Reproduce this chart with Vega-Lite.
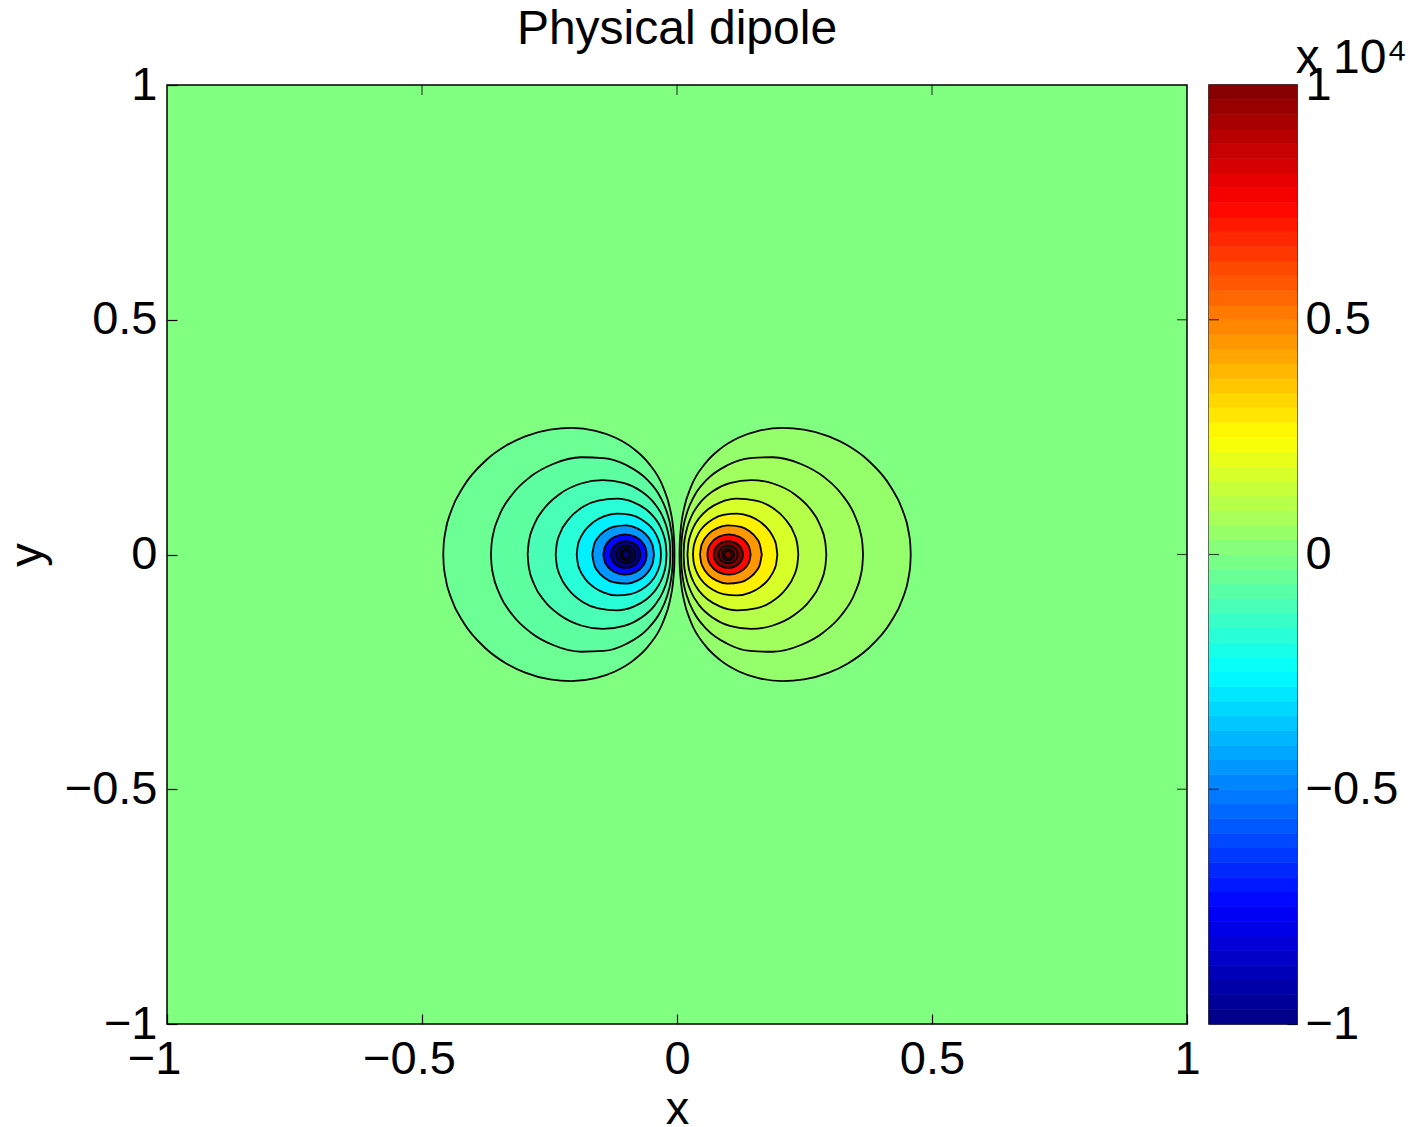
{
  "$schema": "https://vega.github.io/schema/vega-lite/v6.json",
  "background": "white",
  "padding": {"left": 2, "top": 5, "right": 5, "bottom": 5},
  "bounds": "flush",
  "spacing": 22,
  "config": {
    "font": "Liberation Sans",
    "axis": {"labelFont": "Liberation Sans", "labelFontSize": 47, "labelColor": "#000", "titleFont": "Liberation Sans", "titleFontSize": 47, "titleFontWeight": "normal", "titleColor": "#000", "tickColor": "#000", "tickWidth": 1.2, "grid": false, "domain": false},
    "title": {"font": "Liberation Sans", "fontSize": 48, "fontWeight": "normal", "color": "#000"}
  },
  "datasets": {
    "contours": [
      {"id":"n01","v":-400,"x":-0.4583,"yt":0,"yb":0},{"id":"n01","v":-400,"x":-0.4575,"yt":0.0213,"yb":-0.0213},{"id":"n01","v":-400,"x":-0.4545,"yt":0.0463,"yb":-0.0463},{"id":"n01","v":-400,"x":-0.4423,"yt":0.0943,"yb":-0.0943},{"id":"n01","v":-400,"x":-0.4186,"yt":0.1449,"yb":-0.1449},{"id":"n01","v":-400,"x":-0.3745,"yt":0.2007,"yb":-0.2007},{"id":"n01","v":-400,"x":-0.3342,"yt":0.2325,"yb":-0.2325},{"id":"n01","v":-400,"x":-0.2976,"yt":0.2517,"yb":-0.2517},{"id":"n01","v":-400,"x":-0.2489,"yt":0.2662,"yb":-0.2662},{"id":"n01","v":-400,"x":-0.2068,"yt":0.2696,"yb":-0.2696},{"id":"n01","v":-400,"x":-0.1597,"yt":0.2633,"yb":-0.2633},{"id":"n01","v":-400,"x":-0.1215,"yt":0.2491,"yb":-0.2491},{"id":"n01","v":-400,"x":-0.0842,"yt":0.2244,"yb":-0.2244},{"id":"n01","v":-400,"x":-0.0563,"yt":0.1952,"yb":-0.1952},{"id":"n01","v":-400,"x":-0.0267,"yt":0.1422,"yb":-0.1422},{"id":"n01","v":-400,"x":-0.0136,"yt":0.0971,"yb":-0.0971},{"id":"n01","v":-400,"x":-0.0079,"yt":0.0602,"yb":-0.0602},{"id":"n01","v":-400,"x":-0.0059,"yt":0.0337,"yb":-0.0337},{"id":"n01","v":-400,"x":-0.0053,"yt":0.0211,"yb":-0.0211},{"id":"n01","v":-400,"x":-0.0050,"yt":0,"yb":0},
      {"id":"n02","v":-650,"x":-0.3648,"yt":0,"yb":0},{"id":"n02","v":-650,"x":-0.3636,"yt":0.0224,"yb":-0.0224},{"id":"n02","v":-650,"x":-0.3602,"yt":0.0448,"yb":-0.0448},{"id":"n02","v":-650,"x":-0.3488,"yt":0.0821,"yb":-0.0821},{"id":"n02","v":-650,"x":-0.3217,"yt":0.1299,"yb":-0.1299},{"id":"n02","v":-650,"x":-0.2870,"yt":0.1660,"yb":-0.1660},{"id":"n02","v":-650,"x":-0.2430,"yt":0.1928,"yb":-0.1928},{"id":"n02","v":-650,"x":-0.1879,"yt":0.2071,"yb":-0.2071},{"id":"n02","v":-650,"x":-0.1438,"yt":0.2054,"yb":-0.2054},{"id":"n02","v":-650,"x":-0.0986,"yt":0.1900,"yb":-0.1900},{"id":"n02","v":-650,"x":-0.0590,"yt":0.1598,"yb":-0.1598},{"id":"n02","v":-650,"x":-0.0331,"yt":0.1230,"yb":-0.1230},{"id":"n02","v":-650,"x":-0.0196,"yt":0.0890,"yb":-0.0890},{"id":"n02","v":-650,"x":-0.0125,"yt":0.0581,"yb":-0.0581},{"id":"n02","v":-650,"x":-0.0096,"yt":0.0352,"yb":-0.0352},{"id":"n02","v":-650,"x":-0.0087,"yt":0.0223,"yb":-0.0223},{"id":"n02","v":-650,"x":-0.0081,"yt":0,"yb":0},
      {"id":"n03","v":-1056,"x":-0.2928,"yt":0,"yb":0},{"id":"n03","v":-1056,"x":-0.2907,"yt":0.0264,"yb":-0.0264},{"id":"n03","v":-1056,"x":-0.2802,"yt":0.0634,"yb":-0.0634},{"id":"n03","v":-1056,"x":-0.2602,"yt":0.0984,"yb":-0.0984},{"id":"n03","v":-1056,"x":-0.2298,"yt":0.1290,"yb":-0.1290},{"id":"n03","v":-1056,"x":-0.1881,"yt":0.1512,"yb":-0.1512},{"id":"n03","v":-1056,"x":-0.1457,"yt":0.1585,"yb":-0.1585},{"id":"n03","v":-1056,"x":-0.1035,"yt":0.1520,"yb":-0.1520},{"id":"n03","v":-1056,"x":-0.0703,"yt":0.1348,"yb":-0.1348},{"id":"n03","v":-1056,"x":-0.0438,"yt":0.1083,"yb":-0.1083},{"id":"n03","v":-1056,"x":-0.0279,"yt":0.0804,"yb":-0.0804},{"id":"n03","v":-1056,"x":-0.0197,"yt":0.0562,"yb":-0.0562},{"id":"n03","v":-1056,"x":-0.0158,"yt":0.0370,"yb":-0.0370},{"id":"n03","v":-1056,"x":-0.0140,"yt":0.0231,"yb":-0.0231},{"id":"n03","v":-1056,"x":-0.0130,"yt":0,"yb":0},
      {"id":"n04","v":-1716,"x":-0.2379,"yt":0,"yb":0},{"id":"n04","v":-1716,"x":-0.2358,"yt":0.0228,"yb":-0.0228},{"id":"n04","v":-1716,"x":-0.2293,"yt":0.0452,"yb":-0.0452},{"id":"n04","v":-1716,"x":-0.2119,"yt":0.0756,"yb":-0.0756},{"id":"n04","v":-1716,"x":-0.1842,"yt":0.1016,"yb":-0.1016},{"id":"n04","v":-1716,"x":-0.1544,"yt":0.1148,"yb":-0.1148},{"id":"n04","v":-1716,"x":-0.1170,"yt":0.1188,"yb":-0.1188},{"id":"n04","v":-1716,"x":-0.0849,"yt":0.1110,"yb":-0.1110},{"id":"n04","v":-1716,"x":-0.0611,"yt":0.0965,"yb":-0.0965},{"id":"n04","v":-1716,"x":-0.0436,"yt":0.0777,"yb":-0.0777},{"id":"n04","v":-1716,"x":-0.0320,"yt":0.0575,"yb":-0.0575},{"id":"n04","v":-1716,"x":-0.0255,"yt":0.0388,"yb":-0.0388},{"id":"n04","v":-1716,"x":-0.0221,"yt":0.0223,"yb":-0.0223},{"id":"n04","v":-1716,"x":-0.0205,"yt":0,"yb":0},
      {"id":"n05","v":-2789,"x":-0.1967,"yt":0,"yb":0},{"id":"n05","v":-2789,"x":-0.1943,"yt":0.0205,"yb":-0.0205},{"id":"n05","v":-2789,"x":-0.1904,"yt":0.0330,"yb":-0.0330},{"id":"n05","v":-2789,"x":-0.1815,"yt":0.0498,"yb":-0.0498},{"id":"n05","v":-2789,"x":-0.1640,"yt":0.0689,"yb":-0.0689},{"id":"n05","v":-2789,"x":-0.1435,"yt":0.0811,"yb":-0.0811},{"id":"n05","v":-2789,"x":-0.1178,"yt":0.0872,"yb":-0.0872},{"id":"n05","v":-2789,"x":-0.0908,"yt":0.0845,"yb":-0.0845},{"id":"n05","v":-2789,"x":-0.0702,"yt":0.0753,"yb":-0.0753},{"id":"n05","v":-2789,"x":-0.0543,"yt":0.0620,"yb":-0.0620},{"id":"n05","v":-2789,"x":-0.0419,"yt":0.0443,"yb":-0.0443},{"id":"n05","v":-2789,"x":-0.0345,"yt":0.0247,"yb":-0.0247},{"id":"n05","v":-2789,"x":-0.0323,"yt":0.0134,"yb":-0.0134},{"id":"n05","v":-2789,"x":-0.0314,"yt":0,"yb":0},
      {"id":"n06","v":-4532,"x":-0.1663,"yt":0,"yb":0},{"id":"n06","v":-4532,"x":-0.1623,"yt":0.0220,"yb":-0.0220},{"id":"n06","v":-4532,"x":-0.1563,"yt":0.0341,"yb":-0.0341},{"id":"n06","v":-4532,"x":-0.1415,"yt":0.0500,"yb":-0.0500},{"id":"n06","v":-4532,"x":-0.1253,"yt":0.0588,"yb":-0.0588},{"id":"n06","v":-4532,"x":-0.0989,"yt":0.0620,"yb":-0.0620},{"id":"n06","v":-4532,"x":-0.0788,"yt":0.0561,"yb":-0.0561},{"id":"n06","v":-4532,"x":-0.0631,"yt":0.0448,"yb":-0.0448},{"id":"n06","v":-4532,"x":-0.0508,"yt":0.0268,"yb":-0.0268},{"id":"n06","v":-4532,"x":-0.0472,"yt":0.0164,"yb":-0.0164},{"id":"n06","v":-4532,"x":-0.0451,"yt":0,"yb":0},
      {"id":"n07","v":-7364,"x":-0.1444,"yt":0,"yb":0},{"id":"n07","v":-7364,"x":-0.1418,"yt":0.0149,"yb":-0.0149},{"id":"n07","v":-7364,"x":-0.1393,"yt":0.0204,"yb":-0.0204},{"id":"n07","v":-7364,"x":-0.1359,"yt":0.0258,"yb":-0.0258},{"id":"n07","v":-7364,"x":-0.1231,"yt":0.0372,"yb":-0.0372},{"id":"n07","v":-7364,"x":-0.1018,"yt":0.0430,"yb":-0.0430},{"id":"n07","v":-7364,"x":-0.0813,"yt":0.0376,"yb":-0.0376},{"id":"n07","v":-7364,"x":-0.0657,"yt":0.0225,"yb":-0.0225},{"id":"n07","v":-7364,"x":-0.0630,"yt":0.0173,"yb":-0.0173},{"id":"n07","v":-7364,"x":-0.0605,"yt":0.0093,"yb":-0.0093},{"id":"n07","v":-7364,"x":-0.0595,"yt":0,"yb":0},
      {"id":"n08","v":-11968,"x":-0.1292,"yt":0,"yb":0},{"id":"n08","v":-11968,"x":-0.1286,"yt":0.0059,"yb":-0.0059},{"id":"n08","v":-11968,"x":-0.1265,"yt":0.0121,"yb":-0.0121},{"id":"n08","v":-11968,"x":-0.1225,"yt":0.0184,"yb":-0.0184},{"id":"n08","v":-11968,"x":-0.1149,"yt":0.0248,"yb":-0.0248},{"id":"n08","v":-11968,"x":-0.1006,"yt":0.0286,"yb":-0.0286},{"id":"n08","v":-11968,"x":-0.0863,"yt":0.0248,"yb":-0.0248},{"id":"n08","v":-11968,"x":-0.0787,"yt":0.0184,"yb":-0.0184},{"id":"n08","v":-11968,"x":-0.0747,"yt":0.0121,"yb":-0.0121},{"id":"n08","v":-11968,"x":-0.0726,"yt":0.0059,"yb":-0.0059},{"id":"n08","v":-11968,"x":-0.0720,"yt":0,"yb":0},
      {"id":"n09","v":-19440,"x":-0.1188,"yt":0,"yb":0},{"id":"n09","v":-19440,"x":-0.1184,"yt":0.0039,"yb":-0.0039},{"id":"n09","v":-19440,"x":-0.1171,"yt":0.0079,"yb":-0.0079},{"id":"n09","v":-19440,"x":-0.1145,"yt":0.0120,"yb":-0.0120},{"id":"n09","v":-19440,"x":-0.1095,"yt":0.0161,"yb":-0.0161},{"id":"n09","v":-19440,"x":-0.1002,"yt":0.0186,"yb":-0.0186},{"id":"n09","v":-19440,"x":-0.0909,"yt":0.0161,"yb":-0.0161},{"id":"n09","v":-19440,"x":-0.0860,"yt":0.0120,"yb":-0.0120},{"id":"n09","v":-19440,"x":-0.0833,"yt":0.0079,"yb":-0.0079},{"id":"n09","v":-19440,"x":-0.0820,"yt":0.0039,"yb":-0.0039},{"id":"n09","v":-19440,"x":-0.0816,"yt":0,"yb":0},
      {"id":"n10","v":-31600,"x":-0.1119,"yt":0,"yb":0},{"id":"n10","v":-31600,"x":-0.1116,"yt":0.0025,"yb":-0.0025},{"id":"n10","v":-31600,"x":-0.1108,"yt":0.0050,"yb":-0.0050},{"id":"n10","v":-31600,"x":-0.1091,"yt":0.0077,"yb":-0.0077},{"id":"n10","v":-31600,"x":-0.1060,"yt":0.0103,"yb":-0.0103},{"id":"n10","v":-31600,"x":-0.1000,"yt":0.0119,"yb":-0.0119},{"id":"n10","v":-31600,"x":-0.0941,"yt":0.0103,"yb":-0.0103},{"id":"n10","v":-31600,"x":-0.0909,"yt":0.0077,"yb":-0.0077},{"id":"n10","v":-31600,"x":-0.0892,"yt":0.0050,"yb":-0.0050},{"id":"n10","v":-31600,"x":-0.0884,"yt":0.0025,"yb":-0.0025},{"id":"n10","v":-31600,"x":-0.0881,"yt":0,"yb":0},
      {"id":"n11","v":-51360,"x":-0.1075,"yt":0,"yb":0},{"id":"n11","v":-51360,"x":-0.1065,"yt":0.0038,"yb":-0.0038},{"id":"n11","v":-51360,"x":-0.1038,"yt":0.0065,"yb":-0.0065},{"id":"n11","v":-51360,"x":-0.1000,"yt":0.0075,"yb":-0.0075},{"id":"n11","v":-51360,"x":-0.0963,"yt":0.0065,"yb":-0.0065},{"id":"n11","v":-51360,"x":-0.0935,"yt":0.0038,"yb":-0.0038},{"id":"n11","v":-51360,"x":-0.0925,"yt":0,"yb":0},
      {"id":"p01","v":400,"x":0.4583,"yt":0,"yb":0},{"id":"p01","v":400,"x":0.4575,"yt":0.0213,"yb":-0.0213},{"id":"p01","v":400,"x":0.4545,"yt":0.0463,"yb":-0.0463},{"id":"p01","v":400,"x":0.4423,"yt":0.0943,"yb":-0.0943},{"id":"p01","v":400,"x":0.4186,"yt":0.1449,"yb":-0.1449},{"id":"p01","v":400,"x":0.3745,"yt":0.2007,"yb":-0.2007},{"id":"p01","v":400,"x":0.3342,"yt":0.2325,"yb":-0.2325},{"id":"p01","v":400,"x":0.2976,"yt":0.2517,"yb":-0.2517},{"id":"p01","v":400,"x":0.2489,"yt":0.2662,"yb":-0.2662},{"id":"p01","v":400,"x":0.2068,"yt":0.2696,"yb":-0.2696},{"id":"p01","v":400,"x":0.1597,"yt":0.2633,"yb":-0.2633},{"id":"p01","v":400,"x":0.1215,"yt":0.2491,"yb":-0.2491},{"id":"p01","v":400,"x":0.0842,"yt":0.2244,"yb":-0.2244},{"id":"p01","v":400,"x":0.0563,"yt":0.1952,"yb":-0.1952},{"id":"p01","v":400,"x":0.0267,"yt":0.1422,"yb":-0.1422},{"id":"p01","v":400,"x":0.0136,"yt":0.0971,"yb":-0.0971},{"id":"p01","v":400,"x":0.0079,"yt":0.0602,"yb":-0.0602},{"id":"p01","v":400,"x":0.0059,"yt":0.0337,"yb":-0.0337},{"id":"p01","v":400,"x":0.0053,"yt":0.0211,"yb":-0.0211},{"id":"p01","v":400,"x":0.0050,"yt":0,"yb":0},
      {"id":"p02","v":650,"x":0.3648,"yt":0,"yb":0},{"id":"p02","v":650,"x":0.3636,"yt":0.0224,"yb":-0.0224},{"id":"p02","v":650,"x":0.3602,"yt":0.0448,"yb":-0.0448},{"id":"p02","v":650,"x":0.3488,"yt":0.0821,"yb":-0.0821},{"id":"p02","v":650,"x":0.3217,"yt":0.1299,"yb":-0.1299},{"id":"p02","v":650,"x":0.2870,"yt":0.1660,"yb":-0.1660},{"id":"p02","v":650,"x":0.2430,"yt":0.1928,"yb":-0.1928},{"id":"p02","v":650,"x":0.1879,"yt":0.2071,"yb":-0.2071},{"id":"p02","v":650,"x":0.1438,"yt":0.2054,"yb":-0.2054},{"id":"p02","v":650,"x":0.0986,"yt":0.1900,"yb":-0.1900},{"id":"p02","v":650,"x":0.0590,"yt":0.1598,"yb":-0.1598},{"id":"p02","v":650,"x":0.0331,"yt":0.1230,"yb":-0.1230},{"id":"p02","v":650,"x":0.0196,"yt":0.0890,"yb":-0.0890},{"id":"p02","v":650,"x":0.0125,"yt":0.0581,"yb":-0.0581},{"id":"p02","v":650,"x":0.0096,"yt":0.0352,"yb":-0.0352},{"id":"p02","v":650,"x":0.0087,"yt":0.0223,"yb":-0.0223},{"id":"p02","v":650,"x":0.0081,"yt":0,"yb":0},
      {"id":"p03","v":1056,"x":0.2928,"yt":0,"yb":0},{"id":"p03","v":1056,"x":0.2907,"yt":0.0264,"yb":-0.0264},{"id":"p03","v":1056,"x":0.2802,"yt":0.0634,"yb":-0.0634},{"id":"p03","v":1056,"x":0.2602,"yt":0.0984,"yb":-0.0984},{"id":"p03","v":1056,"x":0.2298,"yt":0.1290,"yb":-0.1290},{"id":"p03","v":1056,"x":0.1881,"yt":0.1512,"yb":-0.1512},{"id":"p03","v":1056,"x":0.1457,"yt":0.1585,"yb":-0.1585},{"id":"p03","v":1056,"x":0.1035,"yt":0.1520,"yb":-0.1520},{"id":"p03","v":1056,"x":0.0703,"yt":0.1348,"yb":-0.1348},{"id":"p03","v":1056,"x":0.0438,"yt":0.1083,"yb":-0.1083},{"id":"p03","v":1056,"x":0.0279,"yt":0.0804,"yb":-0.0804},{"id":"p03","v":1056,"x":0.0197,"yt":0.0562,"yb":-0.0562},{"id":"p03","v":1056,"x":0.0158,"yt":0.0370,"yb":-0.0370},{"id":"p03","v":1056,"x":0.0140,"yt":0.0231,"yb":-0.0231},{"id":"p03","v":1056,"x":0.0130,"yt":0,"yb":0},
      {"id":"p04","v":1716,"x":0.2379,"yt":0,"yb":0},{"id":"p04","v":1716,"x":0.2358,"yt":0.0228,"yb":-0.0228},{"id":"p04","v":1716,"x":0.2293,"yt":0.0452,"yb":-0.0452},{"id":"p04","v":1716,"x":0.2119,"yt":0.0756,"yb":-0.0756},{"id":"p04","v":1716,"x":0.1842,"yt":0.1016,"yb":-0.1016},{"id":"p04","v":1716,"x":0.1544,"yt":0.1148,"yb":-0.1148},{"id":"p04","v":1716,"x":0.1170,"yt":0.1188,"yb":-0.1188},{"id":"p04","v":1716,"x":0.0849,"yt":0.1110,"yb":-0.1110},{"id":"p04","v":1716,"x":0.0611,"yt":0.0965,"yb":-0.0965},{"id":"p04","v":1716,"x":0.0436,"yt":0.0777,"yb":-0.0777},{"id":"p04","v":1716,"x":0.0320,"yt":0.0575,"yb":-0.0575},{"id":"p04","v":1716,"x":0.0255,"yt":0.0388,"yb":-0.0388},{"id":"p04","v":1716,"x":0.0221,"yt":0.0223,"yb":-0.0223},{"id":"p04","v":1716,"x":0.0205,"yt":0,"yb":0},
      {"id":"p05","v":2789,"x":0.1967,"yt":0,"yb":0},{"id":"p05","v":2789,"x":0.1943,"yt":0.0205,"yb":-0.0205},{"id":"p05","v":2789,"x":0.1904,"yt":0.0330,"yb":-0.0330},{"id":"p05","v":2789,"x":0.1815,"yt":0.0498,"yb":-0.0498},{"id":"p05","v":2789,"x":0.1640,"yt":0.0689,"yb":-0.0689},{"id":"p05","v":2789,"x":0.1435,"yt":0.0811,"yb":-0.0811},{"id":"p05","v":2789,"x":0.1178,"yt":0.0872,"yb":-0.0872},{"id":"p05","v":2789,"x":0.0908,"yt":0.0845,"yb":-0.0845},{"id":"p05","v":2789,"x":0.0702,"yt":0.0753,"yb":-0.0753},{"id":"p05","v":2789,"x":0.0543,"yt":0.0620,"yb":-0.0620},{"id":"p05","v":2789,"x":0.0419,"yt":0.0443,"yb":-0.0443},{"id":"p05","v":2789,"x":0.0345,"yt":0.0247,"yb":-0.0247},{"id":"p05","v":2789,"x":0.0323,"yt":0.0134,"yb":-0.0134},{"id":"p05","v":2789,"x":0.0314,"yt":0,"yb":0},
      {"id":"p06","v":4532,"x":0.1663,"yt":0,"yb":0},{"id":"p06","v":4532,"x":0.1623,"yt":0.0220,"yb":-0.0220},{"id":"p06","v":4532,"x":0.1563,"yt":0.0341,"yb":-0.0341},{"id":"p06","v":4532,"x":0.1415,"yt":0.0500,"yb":-0.0500},{"id":"p06","v":4532,"x":0.1253,"yt":0.0588,"yb":-0.0588},{"id":"p06","v":4532,"x":0.0989,"yt":0.0620,"yb":-0.0620},{"id":"p06","v":4532,"x":0.0788,"yt":0.0561,"yb":-0.0561},{"id":"p06","v":4532,"x":0.0631,"yt":0.0448,"yb":-0.0448},{"id":"p06","v":4532,"x":0.0508,"yt":0.0268,"yb":-0.0268},{"id":"p06","v":4532,"x":0.0472,"yt":0.0164,"yb":-0.0164},{"id":"p06","v":4532,"x":0.0451,"yt":0,"yb":0},
      {"id":"p07","v":7364,"x":0.1444,"yt":0,"yb":0},{"id":"p07","v":7364,"x":0.1418,"yt":0.0149,"yb":-0.0149},{"id":"p07","v":7364,"x":0.1393,"yt":0.0204,"yb":-0.0204},{"id":"p07","v":7364,"x":0.1359,"yt":0.0258,"yb":-0.0258},{"id":"p07","v":7364,"x":0.1231,"yt":0.0372,"yb":-0.0372},{"id":"p07","v":7364,"x":0.1018,"yt":0.0430,"yb":-0.0430},{"id":"p07","v":7364,"x":0.0813,"yt":0.0376,"yb":-0.0376},{"id":"p07","v":7364,"x":0.0657,"yt":0.0225,"yb":-0.0225},{"id":"p07","v":7364,"x":0.0630,"yt":0.0173,"yb":-0.0173},{"id":"p07","v":7364,"x":0.0605,"yt":0.0093,"yb":-0.0093},{"id":"p07","v":7364,"x":0.0595,"yt":0,"yb":0},
      {"id":"p08","v":11968,"x":0.1292,"yt":0,"yb":0},{"id":"p08","v":11968,"x":0.1286,"yt":0.0059,"yb":-0.0059},{"id":"p08","v":11968,"x":0.1265,"yt":0.0121,"yb":-0.0121},{"id":"p08","v":11968,"x":0.1225,"yt":0.0184,"yb":-0.0184},{"id":"p08","v":11968,"x":0.1149,"yt":0.0248,"yb":-0.0248},{"id":"p08","v":11968,"x":0.1006,"yt":0.0286,"yb":-0.0286},{"id":"p08","v":11968,"x":0.0863,"yt":0.0248,"yb":-0.0248},{"id":"p08","v":11968,"x":0.0787,"yt":0.0184,"yb":-0.0184},{"id":"p08","v":11968,"x":0.0747,"yt":0.0121,"yb":-0.0121},{"id":"p08","v":11968,"x":0.0726,"yt":0.0059,"yb":-0.0059},{"id":"p08","v":11968,"x":0.0720,"yt":0,"yb":0},
      {"id":"p09","v":19440,"x":0.1188,"yt":0,"yb":0},{"id":"p09","v":19440,"x":0.1184,"yt":0.0039,"yb":-0.0039},{"id":"p09","v":19440,"x":0.1171,"yt":0.0079,"yb":-0.0079},{"id":"p09","v":19440,"x":0.1145,"yt":0.0120,"yb":-0.0120},{"id":"p09","v":19440,"x":0.1095,"yt":0.0161,"yb":-0.0161},{"id":"p09","v":19440,"x":0.1002,"yt":0.0186,"yb":-0.0186},{"id":"p09","v":19440,"x":0.0909,"yt":0.0161,"yb":-0.0161},{"id":"p09","v":19440,"x":0.0860,"yt":0.0120,"yb":-0.0120},{"id":"p09","v":19440,"x":0.0833,"yt":0.0079,"yb":-0.0079},{"id":"p09","v":19440,"x":0.0820,"yt":0.0039,"yb":-0.0039},{"id":"p09","v":19440,"x":0.0816,"yt":0,"yb":0},
      {"id":"p10","v":31600,"x":0.1119,"yt":0,"yb":0},{"id":"p10","v":31600,"x":0.1116,"yt":0.0025,"yb":-0.0025},{"id":"p10","v":31600,"x":0.1108,"yt":0.0050,"yb":-0.0050},{"id":"p10","v":31600,"x":0.1091,"yt":0.0077,"yb":-0.0077},{"id":"p10","v":31600,"x":0.1060,"yt":0.0103,"yb":-0.0103},{"id":"p10","v":31600,"x":0.1000,"yt":0.0119,"yb":-0.0119},{"id":"p10","v":31600,"x":0.0941,"yt":0.0103,"yb":-0.0103},{"id":"p10","v":31600,"x":0.0909,"yt":0.0077,"yb":-0.0077},{"id":"p10","v":31600,"x":0.0892,"yt":0.0050,"yb":-0.0050},{"id":"p10","v":31600,"x":0.0884,"yt":0.0025,"yb":-0.0025},{"id":"p10","v":31600,"x":0.0881,"yt":0,"yb":0},
      {"id":"p11","v":51360,"x":0.1075,"yt":0,"yb":0},{"id":"p11","v":51360,"x":0.1065,"yt":0.0038,"yb":-0.0038},{"id":"p11","v":51360,"x":0.1038,"yt":0.0065,"yb":-0.0065},{"id":"p11","v":51360,"x":0.1000,"yt":0.0075,"yb":-0.0075},{"id":"p11","v":51360,"x":0.0963,"yt":0.0065,"yb":-0.0065},{"id":"p11","v":51360,"x":0.0935,"yt":0.0038,"yb":-0.0038},{"id":"p11","v":51360,"x":0.0925,"yt":0,"yb":0}
    ],
    "xticks": [{"x": -0.5}, {"x": 0}, {"x": 0.5}],
    "yticks": [{"yt": -0.5}, {"yt": 0}, {"yt": 0.5}],
    "cticks": [{"lo": -5000}, {"lo": 0}, {"lo": 5000}],
    "bands": [
      {"lo":-10000,"hi":-9687.5,"m":-9843.75},{"lo":-9687.5,"hi":-9375,"m":-9531.25},{"lo":-9375,"hi":-9062.5,"m":-9218.75},{"lo":-9062.5,"hi":-8750,"m":-8906.25},
      {"lo":-8750,"hi":-8437.5,"m":-8593.75},{"lo":-8437.5,"hi":-8125,"m":-8281.25},{"lo":-8125,"hi":-7812.5,"m":-7968.75},{"lo":-7812.5,"hi":-7500,"m":-7656.25},
      {"lo":-7500,"hi":-7187.5,"m":-7343.75},{"lo":-7187.5,"hi":-6875,"m":-7031.25},{"lo":-6875,"hi":-6562.5,"m":-6718.75},{"lo":-6562.5,"hi":-6250,"m":-6406.25},
      {"lo":-6250,"hi":-5937.5,"m":-6093.75},{"lo":-5937.5,"hi":-5625,"m":-5781.25},{"lo":-5625,"hi":-5312.5,"m":-5468.75},{"lo":-5312.5,"hi":-5000,"m":-5156.25},
      {"lo":-5000,"hi":-4687.5,"m":-4843.75},{"lo":-4687.5,"hi":-4375,"m":-4531.25},{"lo":-4375,"hi":-4062.5,"m":-4218.75},{"lo":-4062.5,"hi":-3750,"m":-3906.25},
      {"lo":-3750,"hi":-3437.5,"m":-3593.75},{"lo":-3437.5,"hi":-3125,"m":-3281.25},{"lo":-3125,"hi":-2812.5,"m":-2968.75},{"lo":-2812.5,"hi":-2500,"m":-2656.25},
      {"lo":-2500,"hi":-2187.5,"m":-2343.75},{"lo":-2187.5,"hi":-1875,"m":-2031.25},{"lo":-1875,"hi":-1562.5,"m":-1718.75},{"lo":-1562.5,"hi":-1250,"m":-1406.25},
      {"lo":-1250,"hi":-937.5,"m":-1093.75},{"lo":-937.5,"hi":-625,"m":-781.25},{"lo":-625,"hi":-312.5,"m":-468.75},{"lo":-312.5,"hi":0,"m":-156.25},
      {"lo":0,"hi":312.5,"m":156.25},{"lo":312.5,"hi":625,"m":468.75},{"lo":625,"hi":937.5,"m":781.25},{"lo":937.5,"hi":1250,"m":1093.75},
      {"lo":1250,"hi":1562.5,"m":1406.25},{"lo":1562.5,"hi":1875,"m":1718.75},{"lo":1875,"hi":2187.5,"m":2031.25},{"lo":2187.5,"hi":2500,"m":2343.75},
      {"lo":2500,"hi":2812.5,"m":2656.25},{"lo":2812.5,"hi":3125,"m":2968.75},{"lo":3125,"hi":3437.5,"m":3281.25},{"lo":3437.5,"hi":3750,"m":3593.75},
      {"lo":3750,"hi":4062.5,"m":3906.25},{"lo":4062.5,"hi":4375,"m":4218.75},{"lo":4375,"hi":4687.5,"m":4531.25},{"lo":4687.5,"hi":5000,"m":4843.75},
      {"lo":5000,"hi":5312.5,"m":5156.25},{"lo":5312.5,"hi":5625,"m":5468.75},{"lo":5625,"hi":5937.5,"m":5781.25},{"lo":5937.5,"hi":6250,"m":6093.75},
      {"lo":6250,"hi":6562.5,"m":6406.25},{"lo":6562.5,"hi":6875,"m":6718.75},{"lo":6875,"hi":7187.5,"m":7031.25},{"lo":7187.5,"hi":7500,"m":7343.75},
      {"lo":7500,"hi":7812.5,"m":7656.25},{"lo":7812.5,"hi":8125,"m":7968.75},{"lo":8125,"hi":8437.5,"m":8281.25},{"lo":8437.5,"hi":8750,"m":8593.75},
      {"lo":8750,"hi":9062.5,"m":8906.25},{"lo":9062.5,"hi":9375,"m":9218.75},{"lo":9375,"hi":9687.5,"m":9531.25},{"lo":9687.5,"hi":10000,"m":9843.75}
    ]
  },
  "hconcat": [
    {
      "width": 1020,
      "height": 939,
      "view": {"fill": "#80FF80", "stroke": "#000", "strokeWidth": 1.5},
      "title": {"text": "Physical dipole", "baseline": "alphabetic", "offset": -31},
      "layer": [
        {
          "data": {"name": "contours"},
          "mark": {"type": "area", "interpolate": "monotone", "stroke": "#000", "strokeWidth": 1.8},
          "encoding": {
            "x": {"field": "x", "type": "quantitative", "scale": {"domain": [-1, 1], "nice": false, "zero": false},
                  "axis": {"orient": "bottom", "values": [-1, -0.5, 0, 0.5, 1], "format": "~g", "tickSize": -10, "labelPadding": 22, "labelFlush": false, "title": "x", "titlePadding": 4,
                           "labelOffset": {"condition": {"test": "datum.value < 0", "value": -13}, "value": 0}}},
            "y": {"field": "yt", "type": "quantitative", "scale": {"domain": [-1, 1], "nice": false, "zero": false},
                  "axis": {"orient": "left", "values": [-1, -0.5, 0, 0.5, 1], "format": "~g", "tickSize": -10, "labelPadding": 20, "labelFlush": false, "title": "y", "titlePadding": 13}},
            "y2": {"field": "yb"},
            "color": {"field": "v", "type": "quantitative",
                      "scale": {"domain": [-10000, -7500, -2500, 2500, 7500, 10000], "range": ["#000080", "#0000ff", "#00ffff", "#ffff00", "#ff0000", "#800000"], "clamp": true, "interpolate": "rgb"},
                      "legend": null},
            "detail": {"field": "id"}
          }
        },
        {
          "data": {"name": "xticks"},
          "mark": {"type": "tick", "orient": "vertical", "size": 20, "thickness": 1.2, "color": "#000", "clip": true},
          "encoding": {
            "x": {"field": "x", "type": "quantitative"},
            "y": {"datum": 1, "type": "quantitative"}
          }
        },
        {
          "data": {"name": "yticks"},
          "mark": {"type": "tick", "orient": "horizontal", "size": 20, "thickness": 1.2, "color": "#000", "clip": true},
          "encoding": {
            "x": {"datum": 1, "type": "quantitative"},
            "y": {"field": "yt", "type": "quantitative"}
          }
        }
      ]
    },
    {
      "width": 88,
      "height": 939,
      "view": {"stroke": "#000", "strokeWidth": 1.5},
      "title": {"text": "x 10⁴", "anchor": "start", "dx": 87, "baseline": "alphabetic", "offset": -60},
      "layer": [
        {
          "data": {"name": "bands"},
          "mark": {"type": "rect", "strokeWidth": 0.6},
          "encoding": {
            "y": {"field": "lo", "type": "quantitative", "scale": {"domain": [-10000, 10000], "nice": false, "zero": false},
                  "axis": {"orient": "right", "values": [-10000, -5000, 0, 5000, 10000], "labelExpr": "format(datum.value / 10000, '~g')", "tickSize": -10, "labelPadding": 18, "labelFlush": false, "title": null}},
            "y2": {"field": "hi"},
            "color": {"field": "m", "type": "quantitative",
                      "scale": {"domain": [-10000, -7500, -2500, 2500, 7500, 10000], "range": ["#000080", "#0000ff", "#00ffff", "#ffff00", "#ff0000", "#800000"], "clamp": true, "interpolate": "rgb"},
                      "legend": null},
            "stroke": {"field": "m", "type": "quantitative",
                      "scale": {"domain": [-10000, -7500, -2500, 2500, 7500, 10000], "range": ["#000080", "#0000ff", "#00ffff", "#ffff00", "#ff0000", "#800000"], "clamp": true, "interpolate": "rgb"},
                      "legend": null}
          }
        },
        {
          "data": {"name": "cticks"},
          "mark": {"type": "tick", "orient": "horizontal", "size": 20, "thickness": 1.2, "color": "#000", "clip": true},
          "encoding": {
            "x": {"datum": 0, "type": "quantitative", "scale": {"domain": [0, 1], "nice": false, "zero": false}, "axis": null},
            "y": {"field": "lo", "type": "quantitative"}
          }
        }
      ]
    }
  ]
}
